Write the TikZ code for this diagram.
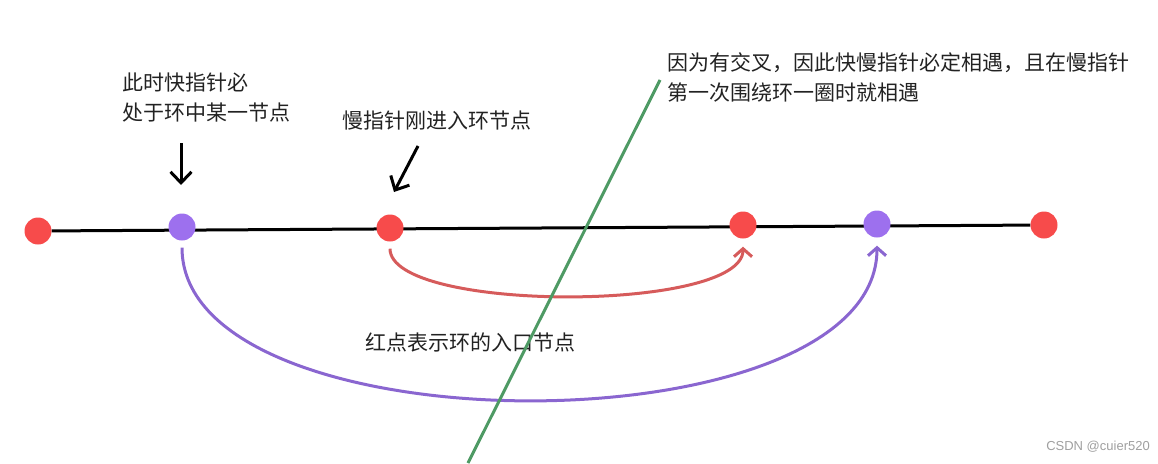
\documentclass[tikz,border=0pt]{standalone}
\usepackage{fontspec}
\setmainfont{Noto Sans CJK SC}
\newfontfamily\wmfont{Liberation Sans}
\usetikzlibrary{arrows.meta,backgrounds}
\definecolor{dotred}{HTML}{F74B4B}
\definecolor{dotpurple}{HTML}{9D70EE}
\definecolor{curvered}{HTML}{D65B5B}
\definecolor{curvepurple}{HTML}{8A66D0}
\definecolor{crossgreen}{HTML}{4E9A64}
\definecolor{textdark}{HTML}{222222}
\begin{document}
\begin{tikzpicture}[x=1pt, y=-1pt,
  dot/.style={circle, inner sep=0pt, minimum size=27pt},
  note/.style={font=\fontsize{21}{30}\selectfont, text=textdark, inner sep=0pt, align=left, anchor=west},
  pointer/.style={line width=3pt, -{Straight Barb[length=11pt, width=21pt]}},
  lap/.style={line width=3pt, shorten <=7pt, shorten >=8pt, -{Straight Barb[length=8pt, width=18pt]}}]
  \useasboundingbox (0,0) rectangle (1158,463);
  % nodes on the list
  \node[dot, fill=dotred] (head) at (38,231) {};
  \node[dot, fill=dotpurple] (fast) at (182,227) {};
  \node[dot, fill=dotred] (slow) at (390,228) {};
  \node[dot, fill=dotred] (meet) at (743,225) {};
  \node[dot, fill=dotpurple] (fastnext) at (877,224) {};
  \node[dot, fill=dotred] (tail) at (1044,225) {};
  \begin{scope}[on background layer]
    \draw[line width=3pt] (head) -- (tail);
  \end{scope}
  % notes
  \node[note] (fastnote) at (122,98) {此时快指针必\\处于环中某一节点};
  \node[note] (slownote) at (342,121) {慢指针刚进入环节点};
  \node[note] (crossnote) at (667,77) {因为有交叉，因此快慢指针必定相遇，且在慢指针\\第一次围绕环一圈时就相遇};
  \node[note] (entrynote) at (365,342) {红点表示环的入口节点};
  \node[font=\wmfont\fontsize{13}{13}\selectfont, text=gray!75, inner sep=0pt, anchor=east] (mark) at (1150,447) {CSDN @cuier520};
  % pointers
  \coordinate (fastfrom) at (181,143);
  \coordinate (fastto) at (181,185);
  \draw[pointer] (fastfrom) -- (fastto);
  \coordinate (slowfrom) at (418,146);
  \coordinate (slowto) at (394,192);
  \draw[pointer] (slowfrom) -- (slowto);
  % laps
  \draw[lap, curvered] (slow.south) .. controls +(0,71) and +(0,74) .. (meet.south);
  \draw[lap, curvepurple] (fast.south) .. controls +(0,211) and +(0,214) .. (fastnext.south);
  % crossing line
  \coordinate (crosstop) at (660,80);
  \coordinate (crossbottom) at (468,463);
  \draw[crossgreen, line width=3pt] (crosstop) -- (crossbottom);
\end{tikzpicture}
\end{document}
